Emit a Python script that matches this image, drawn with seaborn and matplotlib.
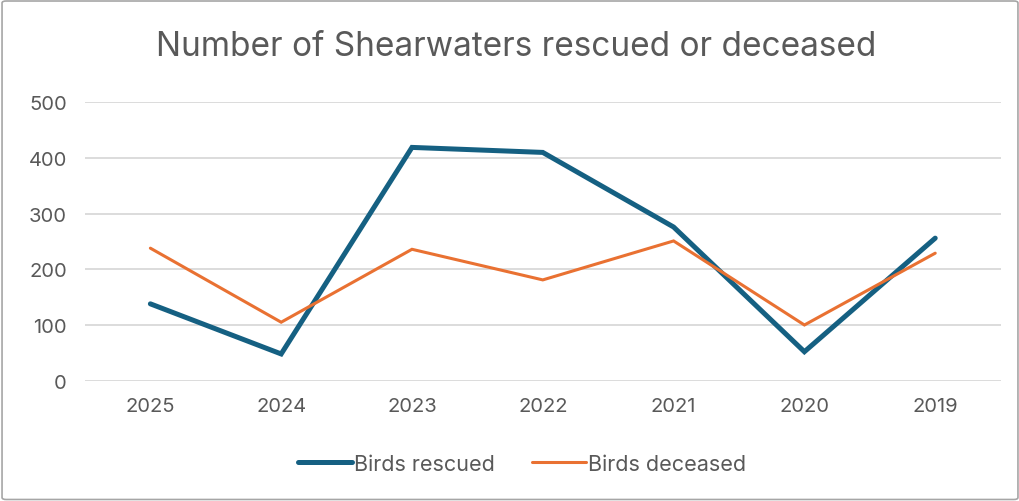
import pandas as pd
import matplotlib
matplotlib.use("Agg")
import matplotlib.pyplot as plt
from matplotlib.patches import FancyBboxPatch
from matplotlib.lines import Line2D
import seaborn as sns

# ── Data ────────────────────────────────────────────────────────────────────
years          = ["2025", "2024", "2023", "2022", "2021", "2020", "2019"]
birds_rescued  = [138, 48, 419, 410, 276, 52, 256]
birds_deceased = [238, 105, 236, 181, 251, 100, 229]
y_ticks        = [0, 100, 200, 300, 400, 500]

BLUE     = "#156082"
ORANGE   = "#E97132"
TEXT_COL = "#595959"
GRID_COL = "#D9D9D9"
FONT     = "Inter"

sns.set_theme(style="white")
plt.rcParams["font.family"] = [FONT, "DejaVu Sans"]

df = pd.DataFrame({"year": years,
                   "Birds rescued": birds_rescued,
                   "Birds deceased": birds_deceased})

fig = plt.figure(figsize=(10.2, 5.02), dpi=100)
fig.patch.set_facecolor("white")
ax = fig.add_axes([0.0833, 0.2397, 0.8977, 0.5545])

sns.lineplot(data=df, x="year", y="Birds rescued", sort=False, ax=ax,
             color=BLUE, linewidth=3.6, solid_capstyle="round",
             solid_joinstyle="miter", zorder=3)
sns.lineplot(data=df, x="year", y="Birds deceased", sort=False, ax=ax,
             color=ORANGE, linewidth=2.2, solid_capstyle="round",
             solid_joinstyle="miter", zorder=4)

ax.set_xlim(-0.5, len(years) - 0.5)
ax.set_ylim(0, 500)
ax.set_yticks(y_ticks)
ax.set_xlabel("")
ax.set_ylabel("")
ax.yaxis.grid(True, color=GRID_COL, linewidth=1.3, zorder=0)
ax.xaxis.grid(False)
ax.set_axisbelow(True)
for s in ax.spines.values():
    s.set_visible(False)
ax.tick_params(axis="both", length=0, labelsize=14.5, labelcolor=TEXT_COL)
ax.tick_params(axis="x", pad=11.5)
ax.tick_params(axis="y", pad=13)

fig.text(0.506, 0.906, "Number of Shearwaters rescued or deceased",
         ha="center", va="center", fontsize=24, color=TEXT_COL)

handles = [Line2D([], [], color=BLUE, linewidth=3.6, solid_capstyle="round"),
           Line2D([], [], color=ORANGE, linewidth=2.2, solid_capstyle="round")]
fig.legend(handles, ["Birds rescued", "Birds deceased"], loc="center",
           bbox_to_anchor=(0.512, 0.074), ncol=2, frameon=False,
           fontsize=15.5, labelcolor=TEXT_COL, handlelength=2.5,
           handletextpad=0.1, columnspacing=1.7)

# outer chart border
fig.patches.append(FancyBboxPatch((0.002, 0.003), 0.996, 0.993,
                                  boxstyle="round,pad=0,rounding_size=0.004",
                                  transform=fig.transFigure, fill=False,
                                  edgecolor="#A6A6A6", linewidth=1.2))

fig.savefig("out.png", dpi=100, facecolor="white")
